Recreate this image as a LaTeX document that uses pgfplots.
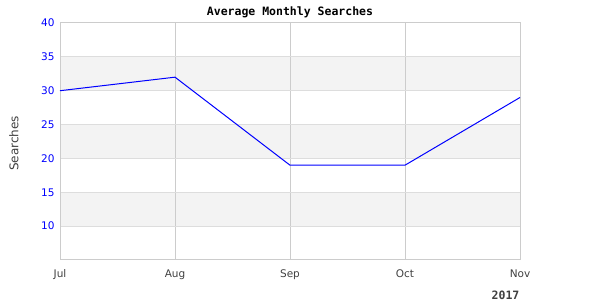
\documentclass[border=0pt]{standalone}
\usepackage{pgfplots}
\pgfplotsset{compat=1.18}
\usepackage{fontspec}
\setmainfont{DejaVu Sans}
\newfontfamily\monob{DejaVu Sans Mono}
\definecolor{band}{HTML}{F3F3F3}
\definecolor{gridc}{HTML}{DDDDDD}
\definecolor{vgrid}{HTML}{CCCCCC}
\definecolor{txt}{HTML}{404040}
\begin{document}
\begin{tikzpicture}
\begin{axis}[
  set layers,
  scale only axis,
  width=460pt, height=237pt,
  at={(60pt,40pt)}, anchor=south west,
  xmin=0, xmax=4, ymin=5, ymax=40,
  xtick={0,1,2,3,4}, xticklabels={Jul,Aug,Sep,Oct,Nov},
  ytick={10,15,20,25,30,35,40},
  major tick length=0pt,
  axis line style={vgrid, line width=1pt},
  xmajorgrids, ymajorgrids,
  x grid style={vgrid, line width=1pt},
  y grid style={gridc, line width=1pt},
  every x tick label/.style={font=\fontsize{10.5}{12}\selectfont, text=txt, yshift=-6pt},
  every y tick label/.style={font=\fontsize{10.5}{12}\selectfont, text=blue, xshift=-2pt},
  /pgf/number format/assume math mode=true,
  ylabel={Searches},
  every axis y label/.style={at={(axis description cs:-0.1,0.4916)}, rotate=90, anchor=center, font=\fontsize{12}{14}\selectfont, text=txt},
  title={\monob\bfseries Average Monthly Searches},
  title style={font=\fontsize{11.5}{13}\selectfont, yshift=-4pt},
  clip=false,
]
\addplot[on layer=axis background, fill=band, draw=none] coordinates {(0,10) (4,10) (4,15) (0,15)} -- cycle;
\addplot[on layer=axis background, fill=band, draw=none] coordinates {(0,20) (4,20) (4,25) (0,25)} -- cycle;
\addplot[on layer=axis background, fill=band, draw=none] coordinates {(0,30) (4,30) (4,35) (0,35)} -- cycle;
\addplot[blue, line width=1pt, mark=none] coordinates {(0,30) (1,32) (2,19) (3,19) (4,29)};
\end{axis}
\node[font=\monob\bfseries\fontsize{11.5}{13}\selectfont, text=txt] at (505.5pt,5pt) {2017};
\useasboundingbox (0pt,0pt) rectangle (600pt,300pt);
\end{tikzpicture}
\end{document}
